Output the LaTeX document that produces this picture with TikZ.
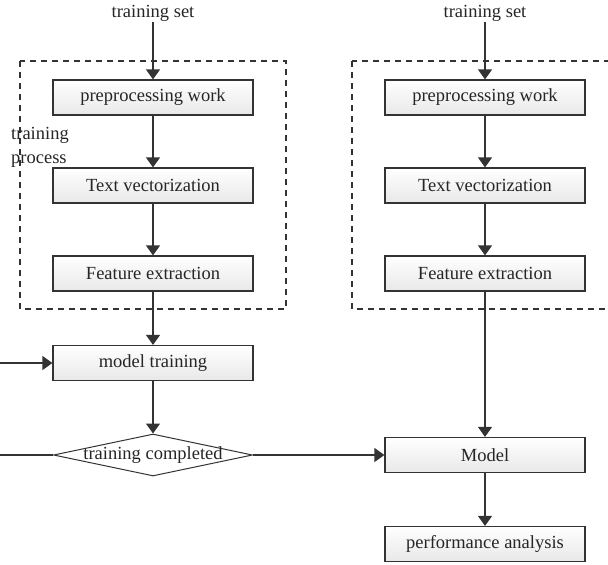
\documentclass[tikz,border=0pt]{standalone}
\usepackage{fontspec}
\setmainfont{Liberation Serif}
\usetikzlibrary{arrows.meta,shapes.geometric}
\definecolor{linegray}{HTML}{333333}
\tikzset{
  every node/.style={font=\fontsize{18.5}{22}\selectfont, text=black!85},
  procbox/.style={draw=linegray, line width=1.2pt, minimum width=200pt, minimum height=35pt,
    inner sep=0pt, top color=white, bottom color=black!9},
  decision/.style={draw=linegray, line width=1pt, diamond, minimum width=199pt,
    minimum height=42pt, inner sep=0pt, fill=white},
  groupbox/.style={draw=linegray, line width=1.1pt, dash pattern=on 6pt off 5pt},
  flow/.style={draw=linegray, line width=1.2pt, -{Triangle[width=14pt,length=10pt]}},
  label/.style={inner sep=1pt}
}
\begin{document}
\begin{tikzpicture}[x=1pt, y=-1pt]
  \useasboundingbox (0,0) rectangle (608,565);
  \clip (0,0) rectangle (608,565);

  % dashed group frames
  \draw[groupbox] (20,61) rectangle (286,309);
  \draw[groupbox] (352,61) rectangle (640,309);

  % left column: training
  \node[label] (setL) at (153,13) {training set};
  \node[procbox] (preL) at (153,97.5) {preprocessing work};
  \node[procbox] (vecL) at (153,185.5) {Text vectorization};
  \node[procbox] (feaL) at (153,273.5) {Feature extraction};
  \node[procbox] (train) at (153,363) {model training};
  \node[decision] (done) at (153,455) {\makebox[0pt]{training completed}};
  \node[label, align=left, anchor=west, font=\fontsize{18.5}{24}\selectfont] (proc) at (10,147) {training\\process};

  % right column: evaluation
  \node[label] (setR) at (485,13) {training set};
  \node[procbox] (preR) at (485,97.5) {preprocessing work};
  \node[procbox] (vecR) at (485,185.5) {Text vectorization};
  \node[procbox] (feaR) at (485,273.5) {Feature extraction};
  \node[procbox] (model) at (485,455) {Model};
  \node[procbox] (perf) at (485,544) {performance analysis};

  % connectors
  \draw[flow] (setL.south) -- (preL.north);
  \draw[flow] (preL) -- (vecL);
  \draw[flow] (vecL) -- (feaL);
  \draw[flow] (feaL) -- (train);
  \draw[flow] (train) -- (done);
  \draw[flow] (done) -- (model);

  \draw[flow] (setR.south) -- (preR.north);
  \draw[flow] (preR) -- (vecR);
  \draw[flow] (vecR) -- (feaR);
  \draw[flow] (feaR) -- (model);
  \draw[flow] (model) -- (perf);

  % loop back to training when not completed
  \coordinate (loopA) at (-12,455);
  \coordinate (loopB) at (-12,363);
  \draw[flow] (done.west) -- (loopA) -- (loopB) -- (train.west);
\end{tikzpicture}
\end{document}
